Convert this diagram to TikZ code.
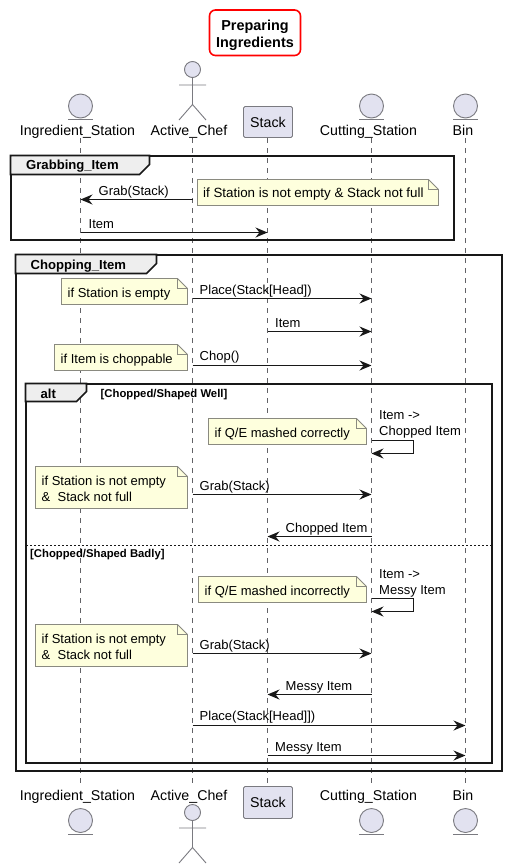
\documentclass[tikz,border=0pt]{standalone}
\usepackage{fontspec}
\setmainfont{Liberation Sans}
\usetikzlibrary{arrows.meta,calc}
\definecolor{partfill}{HTML}{E2E2F0}
\definecolor{partline}{HTML}{7A7A80}
\definecolor{notefill}{HTML}{FEFFDD}
\definecolor{noteline}{HTML}{8A8A80}
\definecolor{tabfill}{HTML}{EEEEEE}
\definecolor{ink}{HTML}{181818}
\tikzset{
  txt/.style={inner sep=0pt,text height=12pt,text depth=3pt,font=\fontsize{13}{16}\selectfont,text=black},
  msgtxt/.style={txt,anchor=west},
  widetxt/.style={msgtxt,font=\fontsize{13.35}{16}\selectfont},
  parttxt/.style={txt,font=\fontsize{14.2}{16}\selectfont},
  grouptxt/.style={txt,anchor=west,font=\fontsize{13.1}{16}\selectfont\bfseries},
  guardtxt/.style={txt,anchor=west,text height=11pt,font=\fontsize{11.3}{13}\selectfont\bfseries},
  msgline/.style={draw=ink,line width=1pt,-{Stealth[length=12pt,width=10pt,inset=4pt]}},
  lifeline/.style={draw=partline!80!black,line width=0.9pt,dash pattern=on 5pt off 5pt},
  partshape/.style={draw=partline,fill=partfill,line width=0.9pt},
  actorline/.style={draw=partline,line width=0.9pt},
  groupbox/.style={draw=ink,line width=2pt},
  tabshape/.style={draw=ink,fill=tabfill,line width=1.6pt},
  noteshape/.style={draw=noteline,fill=notefill,line width=0.9pt},
}
\newcommand{\notebox}[4]{% x1 y1 x2 y2
  \draw[noteshape] (#1,#2) -- (#3-10,#2) -- (#3,#2+10) -- (#3,#4) -- (#1,#4) -- cycle;
  \draw[noteshape,fill=none] (#3-10,#2) -- (#3-10,#2+10) -- (#3,#2+10);}
\newcommand{\msgarrow}[3]{\draw[msgline] (#1 |- 0,#3) -- (#2 |- 0,#3);}
\newcommand{\entityshape}[3]{% x ycircle yline
  \draw[partshape] (#1,#2) circle (12);
  \draw[actorline] (#1-12.5,#3) -- (#1+12.5,#3);}
\newcommand{\actorshape}[2]{% x yhead
  \draw[partshape] (#1,#2) circle (8);
  \draw[actorline] (#1,#2+8) -- (#1,#2+35) (#1-13.5,#2+15.5) -- (#1+13.5,#2+15.5)
    (#1-13.5,#2+50.5) -- (#1,#2+35) -- (#1+13.5,#2+50.5);}
\newcommand{\tabshape}[4]{% x1 y1 x2 y2
  \draw[tabshape] (#1,#2) -- (#3,#2) -- (#3,#4-10) -- (#3-10,#4) -- (#1,#4) -- cycle;}
\newcommand{\selfmsg}[4]{% name x y1 y2
  \draw[msgline] (#1 |- 0,#2) -- (413.5,#2) -- (413.5,#3) -- (#1 |- 0,#3);}
\begin{document}
\begin{tikzpicture}[x=1pt,y=-1pt]
\useasboundingbox (0,0) rectangle (506,868);
% lifeline ends
\coordinate (isT) at (80.5,138); \coordinate (isB) at (80.5,783);
\coordinate (acT) at (192.5,138); \coordinate (acB) at (192.5,783);
\coordinate (stT) at (267.5,138); \coordinate (stB) at (267.5,783);
\coordinate (csT) at (371.5,138); \coordinate (csB) at (371.5,783);
\coordinate (biT) at (465.5,138); \coordinate (biB) at (465.5,783);
\foreach \a/\b in {isT/isB,acT/acB,stT/stB,csT/csB,biT/biB}
  \draw[lifeline] (\a) -- (\b);
% title
\node[draw=red,line width=1.6pt,rounded corners=6pt,fill=white,minimum width=91pt,minimum height=45.5pt,inner sep=0pt,align=center,
  font=\fontsize{14.4}{17}\selectfont\bfseries] (title) at (255,32.75) {\rule{0pt}{15.5pt}Preparing\\Ingredients};
% top participants
\entityshape{80.5}{106}{119.5}
\actorshape{192.5}{69.5}
\entityshape{371.5}{106}{119.5}
\entityshape{465.5}{106}{119.5}
\node[parttxt] (isTop) at (77.5,131) {Ingredient\_Station};
\node[parttxt] (acTop) at (189,131) {Active\_Chef};
\node[partshape,rounded corners=1.5pt,minimum width=49pt,minimum height=31pt,inner sep=0pt,font=\fontsize{14.2}{16}\selectfont] (stTop) at (268,122) {Stack};
\node[parttxt] (csTop) at (368.5,131) {Cutting\_Station};
\node[parttxt] (biTop) at (463,131) {Bin};
% bottom participants
\entityshape{80.5}{820.5}{834.5}
\actorshape{192.5}{812.5}
\entityshape{371.5}{820.5}{834.5}
\entityshape{465.5}{820.5}{834.5}
\node[parttxt] (isBot) at (77.5,796) {Ingredient\_Station};
\node[parttxt] (acBot) at (189,796) {Active\_Chef};
\node[partshape,rounded corners=1.5pt,minimum width=49pt,minimum height=32pt,inner sep=0pt,font=\fontsize{14.2}{16}\selectfont] (stBot) at (268,802.5) {Stack};
\node[parttxt] (csBot) at (368.5,796) {Cutting\_Station};
\node[parttxt] (biBot) at (463,796) {Bin};
% groups
\draw[groupbox] (10.5,155.5) rectangle (453.5,240);
\tabshape{10.5}{155.5}{149.5}{174.5}
\node[grouptxt] (gGrab) at (26,165) {Grabbing\_Item};
\draw[groupbox] (15.5,254.5) rectangle (501.5,770.5);
\tabshape{15.5}{254.5}{156.5}{273.5}
\node[grouptxt] (gChop) at (30.5,264.5) {Chopping\_Item};
\draw[groupbox] (25.5,383.5) rectangle (491.5,763);
\tabshape{25.5}{383.5}{86.5}{401.5}
\node[grouptxt] (gAlt) at (40.5,393.5) {alt};
\node[guardtxt] (gWell) at (100.5,393) {[Chopped/Shaped Well]};
\draw[draw=ink,line width=0.9pt,dash pattern=on 2pt off 2pt] (26,545.5) -- (491,545.5);
\node[guardtxt] (gBad) at (30,553) {[Chopped/Shaped Badly]};
% notes
\notebox{197.5}{179.5}{438.5}{205.5}
\node[widetxt] (n1) at (203,193) {if Station is not empty \& Stack not full};
\notebox{61.5}{278.5}{187.5}{304.5}
\node[msgtxt] (n2) at (67.5,292.5) {if Station is empty};
\notebox{54.5}{344.5}{187.5}{370.5}
\node[msgtxt] (n3) at (60.5,358.5) {if Item is choppable};
\notebox{208.5}{418.5}{366.5}{444.5}
\node[msgtxt] (n4) at (214.5,432.5) {if Q/E mashed correctly};
\notebox{35.5}{466.5}{187.5}{508.5}
\node[msgtxt] (n5a) at (41.5,480.5) {if Station is not empty};
\node[msgtxt] (n5b) at (41.5,496.5) {\&{}\ \ Stack not full};
\notebox{198.5}{576.5}{366.5}{602.5}
\node[msgtxt] (n6) at (204.5,590.5) {if Q/E mashed incorrectly};
\notebox{35.5}{624.5}{187.5}{666.5}
\node[msgtxt] (n7a) at (41.5,638.5) {if Station is not empty};
\node[msgtxt] (n7b) at (41.5,655) {\&{}\ \ Stack not full};
% messages
\msgarrow{acT}{isT}{199.5}
\node[msgtxt] (m1) at (98.5,190.5) {Grab(Stack)};
\msgarrow{isT}{stT}{232.5}
\node[msgtxt] (m2) at (88.5,223.5) {Item};
\msgarrow{acT}{csT}{298.5}
\node[msgtxt] (m3) at (199.5,289.5) {Place(Stack[Head])};
\msgarrow{stT}{csT}{331.5}
\node[msgtxt] (m4) at (275,322.5) {Item};
\msgarrow{acT}{csT}{365.5}
\node[msgtxt] (m5) at (199.5,355.5) {Chop()};
\selfmsg{csT}{440.5}{453.5}{}
\node[msgtxt] (m6a) at (379,414.5) {Item ->};
\node[msgtxt] (m6b) at (379,430.5) {Chopped Item};
\msgarrow{acT}{csT}{494.5}
\node[msgtxt] (m7) at (199.5,485.5) {Grab(Stack)};
\msgarrow{csT}{stT}{536.5}
\node[msgtxt] (m8) at (285.5,527.5) {Chopped Item};
\selfmsg{csT}{598.5}{611.5}{}
\node[msgtxt] (m9a) at (379,573.5) {Item ->};
\node[msgtxt] (m9b) at (379,589.5) {Messy Item};
\msgarrow{acT}{csT}{653.5}
\node[msgtxt] (m10) at (199.5,644.5) {Grab(Stack)};
\msgarrow{csT}{stT}{694.5}
\node[msgtxt] (m11) at (285.5,685.5) {Messy Item};
\msgarrow{acT}{biT}{725.5}
\node[msgtxt] (m12) at (199.5,715.5) {Place(Stack[Head]])};
\msgarrow{stT}{biT}{755.5}
\node[msgtxt] (m13) at (275,746.5) {Messy Item};
\end{tikzpicture}
\end{document}
